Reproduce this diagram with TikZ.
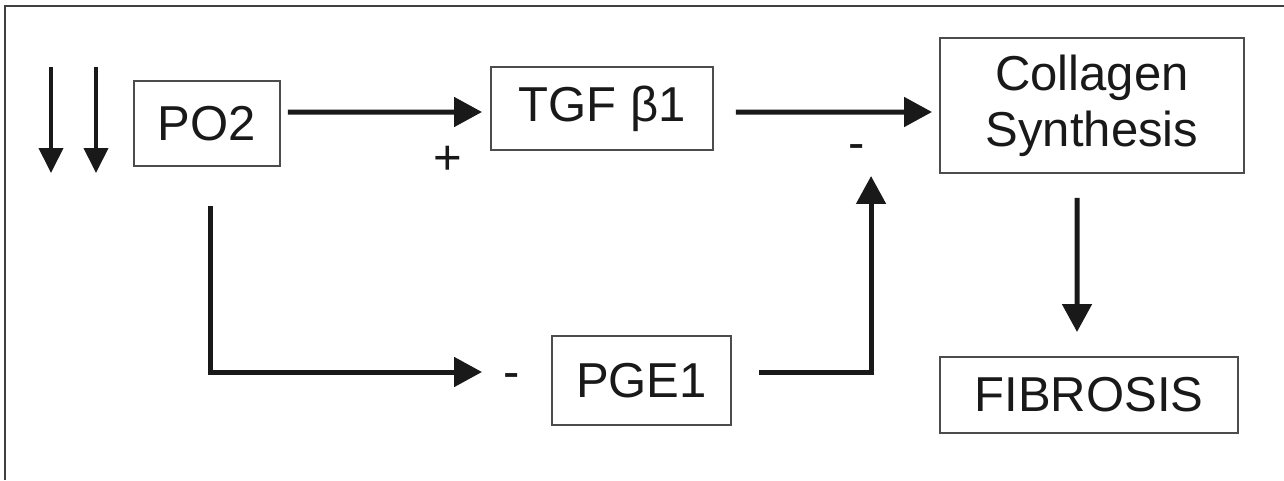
\documentclass[tikz,border=0pt]{standalone}
\usepackage{fontspec}
\setmainfont{Liberation Sans}
\usetikzlibrary{arrows.meta}
\tikzset{
	box/.style={draw=black!70, line width=0.04cm, inner sep=0pt, align=center, text=black!90, font=\fontsize{27.9}{31.9}\selectfont},
	sign/.style={inner sep=0pt, anchor=base, text=black!90, font=\fontsize{27.9}{31.9}\selectfont},
	arr/.style={draw=black!90, line width=0.1cm, -{Triangle[length=0.56cm,width=0.58cm]}},
	thinarr/.style={draw=black!90, line width=0.08cm, -{Triangle[length=0.5cm,width=0.48cm]}},
}

\begin{document}
\begin{tikzpicture}[x=0.02cm,y=-0.02cm]
		\useasboundingbox (0,0) rectangle (1284,480);
		\draw[black!75, line width=0.04cm] (5,480) -- (5,6) -- (1284,6);
		% boxes
		\node[box, minimum width=2.92cm, minimum height=1.7cm] (po2) at (207,123.5) {PO2};
		\node[box, minimum width=4.44cm, minimum height=1.66cm] (tgf) at (602,108.5) {TGF β1};
		\node[box, minimum width=6.08cm, minimum height=2.7cm] (col) at (1092,105.5) {Collagen\\Synthesis};
		\node[box, minimum width=5.96cm, minimum height=1.52cm] (fib) at (1089,395) {FIBROSIS};
		\node[box, minimum width=3.58cm, minimum height=1.78cm] (pge) at (641.5,380.5) {PGE1};
		% signs
		\node[sign] (plus) at (448,174) {+};
		\node[sign] (minus1) at (857,159) {-};
		\node[sign] (minus2) at (512,388) {-};
		% low PO2
		\coordinate (d1s) at (51,67);  \coordinate (d1e) at (51,173);
		\coordinate (d2s) at (96,67);  \coordinate (d2e) at (96,173);
		\draw[thinarr] (d1s) -- (d1e);
		\draw[thinarr] (d2s) -- (d2e);
		% connectors
		\draw[arr] ([xshift=0.14cm,yshift=0.23cm]po2.east) -- ([xshift=-0.16cm,yshift=-0.07cm]tgf.west);
		\draw[arr] ([xshift=0.44cm,yshift=-0.07cm]tgf.east) -- ([xshift=-0.14cm,yshift=-0.13cm]col.west);
		\draw[arr] ([xshift=-0.3cm,yshift=-0.48cm]col.south) -- ([xshift=-0.24cm,yshift=0.48cm]fib.north);
		\draw[arr] ([xshift=0.06cm,yshift=-0.78cm]po2.south) |- ([xshift=-1.38cm,yshift=0.17cm]pge.west);
		\draw[arr] ([xshift=0.54cm,yshift=0.17cm]pge.east) -| ([xshift=-1.36cm,yshift=-0.04cm]col.south west);
\end{tikzpicture}
\end{document}
